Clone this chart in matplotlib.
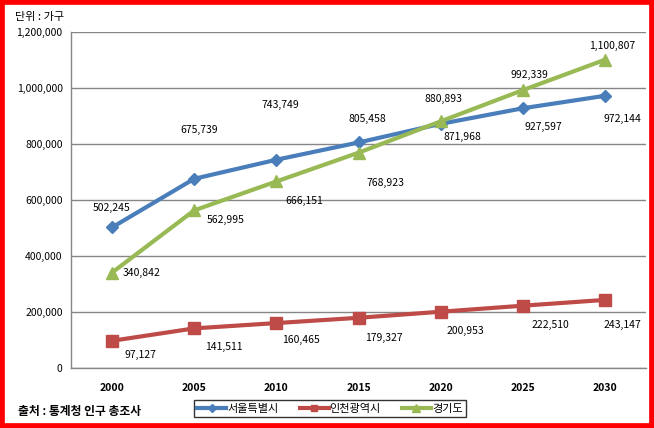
import matplotlib
matplotlib.use("Agg")
import matplotlib.pyplot as plt
from matplotlib.patches import Rectangle

plt.rcParams['font.family'] = ['Noto Sans CJK KR', 'DejaVu Sans']

years = ['2000', '2005', '2010', '2015', '2020', '2025', '2030']
seoul = [502245, 675739, 743749, 805458, 871968, 927597, 972144]
incheon = [97127, 141511, 160465, 179327, 200953, 222510, 243147]
gyeonggi = [340842, 562995, 666151, 768923, 880893, 992339, 1100807]
series_names = ['서울특별시', '인천광역시', '경기도']
yticks = [0, 200000, 400000, 600000, 800000, 1000000, 1200000]

W, H = 654, 428
fig = plt.figure(figsize=(W/100, H/100), dpi=100)
ax = fig.add_axes([71/W, 1-368/H, (646-71)/W, (368-32)/H])

x = list(range(len(years)))
c_blue, c_red, c_green = '#4a7ebb', '#be4b48', '#98b954'
ax.plot(x, seoul, color=c_blue, lw=3.0, marker='D', ms=6.5, mfc=c_blue, mec=c_blue, label=series_names[0], zorder=3)
ax.plot(x, incheon, color=c_red, lw=3.0, marker='s', ms=8, mfc=c_red, mec=c_red, label=series_names[1], zorder=3)
ax.plot(x, gyeonggi, color=c_green, lw=3.0, marker='^', ms=8.5, mfc=c_green, mec=c_green, label=series_names[2], zorder=4)

ax.set_xlim(-0.5, len(years)-0.5)
ax.set_ylim(0, 1200000)
ax.set_yticks(yticks)
ax.set_yticklabels([f'{v:,}' for v in yticks], fontsize=7.5)
ax.set_xticks(x)
ax.set_xticklabels(years, fontsize=7.5, fontweight='bold')
ax.tick_params(axis='both', length=0, pad=6)
ax.tick_params(axis='x', pad=11)
ax.grid(axis='y', color='#868686', lw=1)
ax.set_axisbelow(True)
for s in ['top', 'right']:
    ax.spines[s].set_visible(False)
for s in ['left', 'bottom']:
    ax.spines[s].set_color('#868686')
    ax.spines[s].set_linewidth(1)

# label offsets in pixels (dx, dy) relative to point, dy positive = up
seoul_off = [(0, 19), (5, 49), (4, 55), (9, 23), (22, -13), (21, -19), (18, -23)]
incheon_off = [(28, -14), (30, -19), (25, -17), (25, -20), (25, -19), (28, -19), (17, -25)]
gyeonggi_off = [(30, 0), (31, -10), (28, -20), (27, -30), (3, 22), (7, 15), (7, 14)]

def label(vals, offs):
    for i, (v, (dx, dy)) in enumerate(zip(vals, offs)):
        ax.annotate(f'{v:,}', (i, v), xytext=(dx, dy), textcoords='offset pixels',
                    ha='center', va='center', fontsize=7.5, zorder=6)

label(seoul, seoul_off)
label(incheon, incheon_off)
label(gyeonggi, gyeonggi_off)

leg = fig.legend(loc='center', bbox_to_anchor=(330/W, 1-408.5/H), ncol=3, fontsize=8,
                 frameon=True, fancybox=False, edgecolor='black', handlelength=2.6,
                 handletextpad=0.1, columnspacing=1.9, borderpad=0.3,
                 markerscale=0.6, borderaxespad=0)
leg.get_frame().set_linewidth(1)

fig.text(15/W, 1-17/H, '단위 : 가구', fontsize=8, va='center', ha='left')
fig.text(18/W, 1-411/H, '출처 : 통계청 인구 총조사', fontsize=8.5, va='center', ha='left', fontweight='bold')

fig.patches.append(Rectangle((0, 0), 1, 1, transform=fig.transFigure, fill=False,
                             edgecolor='#ff0000', lw=7, zorder=10))

fig.savefig('out.png', dpi=100)
